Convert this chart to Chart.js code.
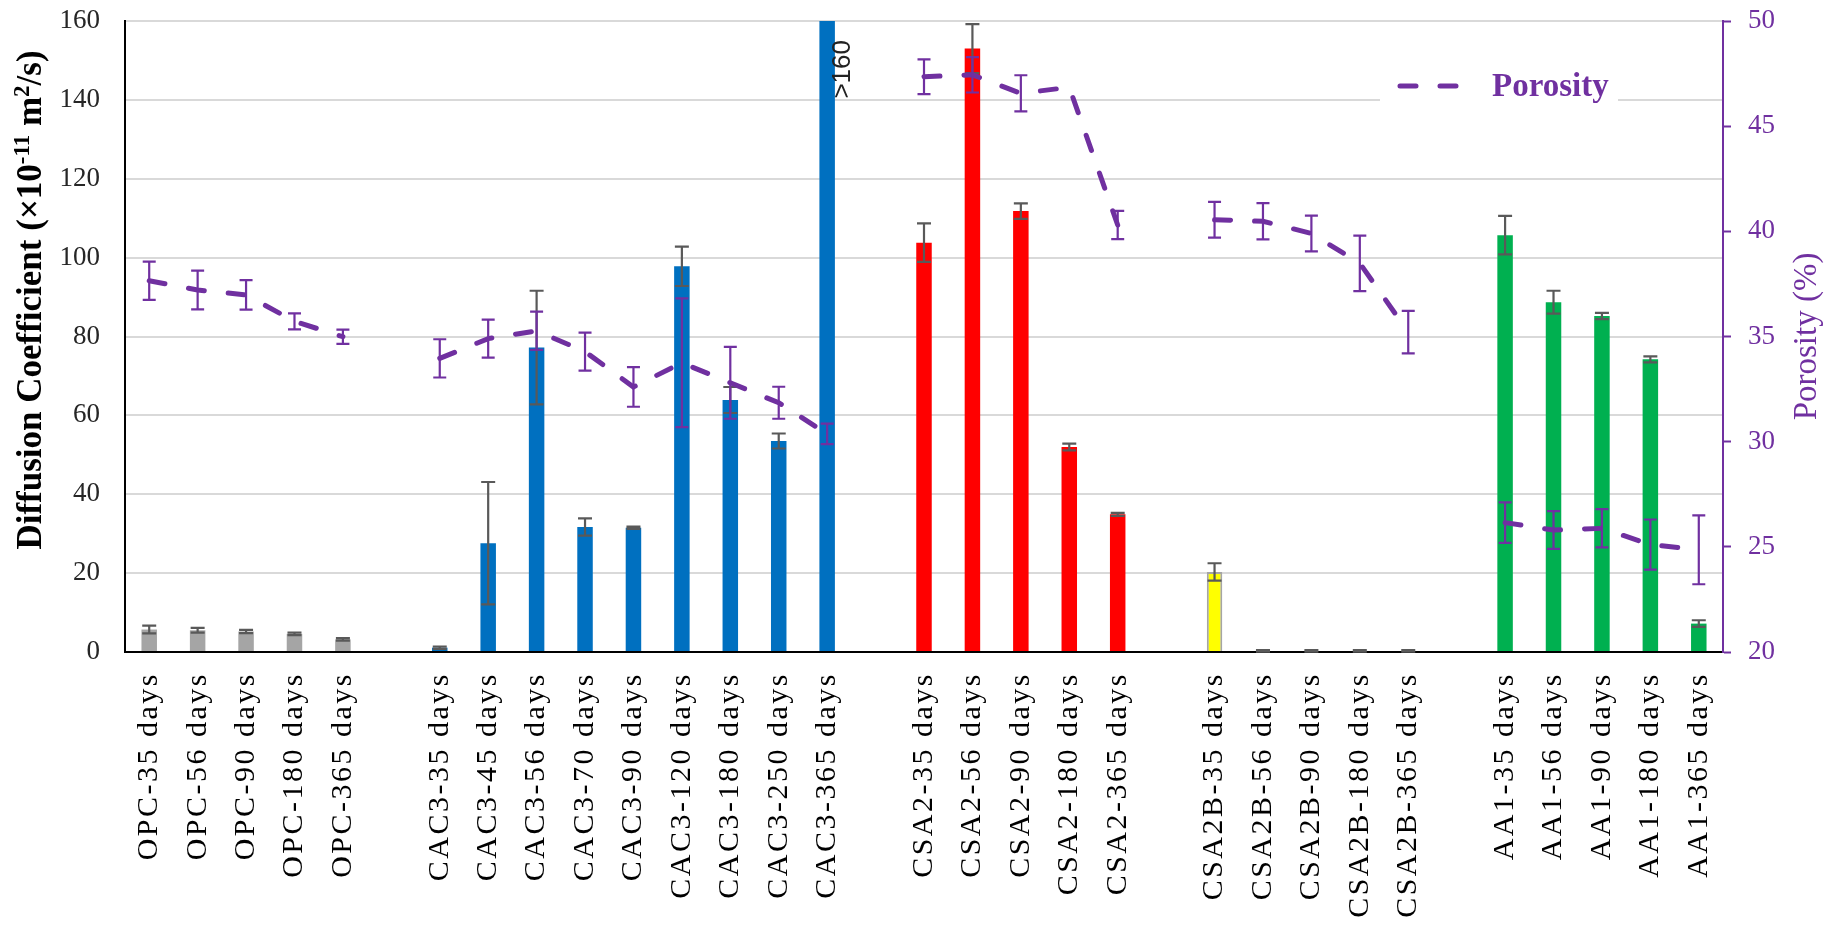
<!DOCTYPE html>
<html>
<head>
<meta charset="utf-8">
<script src="https://cdn.jsdelivr.net/npm/chart.js@4.4.1/dist/chart.umd.min.js"></script>
<style>
  html, body { margin: 0; padding: 0; background: #fff; }
  #wrap { width: 1837px; height: 930px; }
</style>
</head>
<body>
<div id="wrap"><canvas id="chart"></canvas></div>
<script>
// categories ('' = empty slot between mix groups)
const categoryLabels = [
  'OPC-35 days', 'OPC-56 days', 'OPC-90 days', 'OPC-180 days', 'OPC-365 days', '',
  'CAC3-35 days', 'CAC3-45 days', 'CAC3-56 days', 'CAC3-70 days', 'CAC3-90 days',
  'CAC3-120 days', 'CAC3-180 days', 'CAC3-250 days', 'CAC3-365 days', '',
  'CSA2-35 days', 'CSA2-56 days', 'CSA2-90 days', 'CSA2-180 days', 'CSA2-365 days', '',
  'CSA2B-35 days', 'CSA2B-56 days', 'CSA2B-90 days', 'CSA2B-180 days', 'CSA2B-365 days', '',
  'AA1-35 days', 'AA1-56 days', 'AA1-90 days', 'AA1-180 days', 'AA1-365 days'
];

// diffusion coefficient (x10^-11 m2/s) and its error
const diffusion = [
  5.7, 5.5, 5.2, 4.6, 3.2, null,
  1.1, 27.6, 77.2, 31.7, 31.5, 97.8, 63.9, 53.5, 160, null,
  103.8, 153, 111.8, 52.0, 34.9, null,
  20.3, 0.3, 0.3, 0.3, 0.3, null,
  105.7, 88.7, 85.2, 74.2, 7.2
];
const diffusionErr = [
  1.0, 0.6, 0.4, 0.3, 0.3, null,
  0.3, 15.5, 14.4, 2.2, 0.3, 5.0, 3.3, 1.9, 0, null,
  4.9, 6.2, 1.95, 0.85, 0.4, null,
  2.2, 0.2, 0.2, 0.2, 0.2, null,
  4.9, 2.9, 0.8, 0.76, 0.85
];

// porosity (%) and its error
const porosity = [
  37.65, 37.21, 36.98, 35.72, 34.99, null,
  33.96, 34.9, 35.27, 34.28, 32.6, 33.75, 32.8, 31.85, 30.37, null,
  47.35, 47.44, 46.56, 46.85, 40.3, null,
  40.55, 40.48, 39.9, 38.48, 35.21, null,
  26.15, 25.8, 25.88, 25.11, 24.86
];
const porosityErr = [
  0.91, 0.92, 0.70, 0.38, 0.34, null,
  0.91, 0.9, 0.91, 0.9, 0.94, 3.06, 1.71, 0.76, 0.49, null,
  0.83, 0.84, 0.86, 0, 0.67, null,
  0.85, 0.86, 0.85, 1.32, 1.01, null,
  0.96, 0.9, 0.91, 1.19, 1.64
];

const diffusionTicks = [0, 20, 40, 60, 80, 100, 120, 140, 160];
const porosityTicks = [20, 25, 30, 35, 40, 45, 50];
const barNotes = { 'CAC3-365 days': '>160' };

const SERIF = '"Liberation Serif", "Times New Roman", serif';
const PURPLE = '#7030A0';
const groupColors = { OPC: '#A5A5A5', CAC3: '#0070C0', CSA2: '#FF0000', CSA2B: '#FFFF00', AA1: '#00B050' };
const groupOf = l => l.split('-')[0];
const barColors = categoryLabels.map(l => groupColors[groupOf(l)] || 'rgba(0,0,0,0)');
const barBorders = categoryLabels.map(l => groupOf(l) === 'CSA2B' ? 2 : 0);

// vertical error bars, drawn right after their own dataset
const errorBars = {
  id: 'errorBars',
  afterDatasetDraw(chart, args) {
    const ds = chart.data.datasets[args.index];
    if (!ds.errorValues) return;
    const meta = args.meta;
    const yScale = chart.scales[meta.yAxisID];
    const ctx = chart.ctx;
    const half = ds.errorCap;
    ctx.save();
    ctx.strokeStyle = ds.errorColor;
    ctx.lineWidth = ds.errorWidth;
    ctx.beginPath();
    meta.data.forEach((el, i) => {
      const v = ds.data[i], e = ds.errorValues[i];
      if (v == null || !e) return;
      const top = yScale.getPixelForValue(v + e);
      const bot = yScale.getPixelForValue(v - e);
      ctx.moveTo(el.x, top); ctx.lineTo(el.x, bot);
      ctx.moveTo(el.x - half, top); ctx.lineTo(el.x + half, top);
      ctx.moveTo(el.x - half, bot); ctx.lineTo(el.x + half, bot);
    });
    ctx.stroke();
    ctx.restore();
  }
};

// ">160" note beside the clipped bar
const notes = {
  id: 'notes',
  afterDatasetsDraw(chart) {
    const idx = chart.data.datasets.findIndex(d => d.type === 'bar');
    const meta = chart.getDatasetMeta(idx);
    const ctx = chart.ctx;
    ctx.save();
    ctx.letterSpacing = '0px';
    ctx.font = '26px "Liberation Sans", Arial, sans-serif';
    ctx.fillStyle = '#222';
    ctx.textBaseline = 'middle';
    ctx.textAlign = 'right';
    categoryLabels.forEach((l, i) => {
      if (!barNotes[l]) return;
      const el = meta.data[i];
      ctx.save();
      ctx.translate(el.x + el.width / 2 + 8, chart.chartArea.top + 19);
      ctx.rotate(-Math.PI / 2);
      ctx.fillText(barNotes[l], 0, 0);
      ctx.restore();
    });
    ctx.restore();
  }
};

// slightly spaced category labels (drawn after the datasets, z: 1)
const labelSpacing = {
  id: 'labelSpacing',
  beforeDraw(chart) { chart.ctx.letterSpacing = '0px'; },
  afterDatasetsDraw(chart) { chart.ctx.letterSpacing = '2.5px'; },
  afterDraw(chart) { chart.ctx.letterSpacing = '0px'; }
};

// axis titles (left one has superscripts, right one reads bottom-to-top)
const axisTitles = {
  id: 'axisTitles',
  afterDraw(chart) {
    const ctx = chart.ctx;
    const parts = [['Diffusion Coefficient (\u00d710', false], ['-11', true], [' m', false], ['2', true], ['/s)', false]];
    const big = 'bold 35px ' + SERIF, small = 'bold 23px ' + SERIF;
    ctx.save();
    ctx.letterSpacing = '0px';
    let total = 0;
    parts.forEach(([t, sup]) => { ctx.font = sup ? small : big; total += ctx.measureText(t).width; });
    ctx.translate(29, 300);
    ctx.rotate(-Math.PI / 2);
    ctx.fillStyle = '#000';
    ctx.textBaseline = 'alphabetic';
    ctx.textAlign = 'left';
    let x = -total / 2;
    parts.forEach(([t, sup]) => {
      ctx.font = sup ? small : big;
      ctx.fillText(t, x, sup ? 0 : 12);
      x += ctx.measureText(t).width;
    });
    ctx.restore();

    const r = chart.scales.y1;
    ctx.save();
    ctx.letterSpacing = '0px';
    ctx.translate(r.right - 30, (chart.chartArea.top + chart.chartArea.bottom) / 2);
    ctx.rotate(-Math.PI / 2);
    ctx.font = '33px ' + SERIF;
    ctx.fillStyle = PURPLE;
    ctx.textAlign = 'center';
    ctx.textBaseline = 'middle';
    ctx.fillText('Porosity (%)', 0, 0);
    ctx.restore();
  }
};

// legend for the porosity line, inside the plot at top right
const insetLegend = {
  id: 'insetLegend',
  afterDraw(chart) {
    const ds = chart.data.datasets.find(d => d.type === 'line');
    const { ctx, chartArea } = chart;
    const right = chartArea.right - 105;
    const cy = chartArea.top + 65;
    ctx.save();
    ctx.letterSpacing = '0px';
    ctx.fillStyle = '#fff';
    ctx.fillRect(right - 238, cy - 22, 238, 44);
    ctx.strokeStyle = ds.borderColor;
    ctx.lineWidth = ds.borderWidth;
    ctx.lineCap = 'round';
    ctx.setLineDash(ds.borderDash);
    ctx.beginPath();
    ctx.moveTo(right - 218, cy);
    ctx.lineTo(right - 156, cy);
    ctx.stroke();
    ctx.setLineDash([]);
    ctx.font = 'bold 33px ' + SERIF;
    ctx.fillStyle = ds.borderColor;
    ctx.textBaseline = 'middle';
    ctx.fillText(ds.label, right - 126, cy + 1);
    ctx.restore();
  }
};

// keep tick-label padding from pushing the plot area inwards
const noEdgePadding = s => { s.paddingTop = 0; s.paddingBottom = 0; };

new Chart(document.getElementById('chart'), {
  type: 'bar',
  data: {
    labels: categoryLabels,
    datasets: [
      {
        type: 'line', label: 'Porosity', data: porosity, yAxisID: 'y1', order: 0,
        borderColor: PURPLE, borderWidth: 5, borderDash: [16, 24], borderCapStyle: 'round',
        pointRadius: 0, spanGaps: false, tension: 0,
        errorValues: porosityErr, errorColor: PURPLE, errorWidth: 2.2, errorCap: 6.5
      },
      {
        type: 'bar', label: 'Diffusion Coefficient', data: diffusion, yAxisID: 'y', order: 1,
        backgroundColor: barColors, borderColor: '#A5A5A5', borderWidth: barBorders,
        barPercentage: 0.32, categoryPercentage: 1,
        errorValues: diffusionErr, errorColor: '#595959', errorWidth: 2.2, errorCap: 7
      }
    ]
  },
  options: {
    responsive: true,
    maintainAspectRatio: false,
    animation: false,
    events: [],
    layout: { padding: { top: 21 } },
    plugins: { legend: { display: false }, tooltip: { enabled: false } },
    scales: {
      x: {
        offset: true,
        grid: { display: false, drawTicks: false },
        border: { display: true, color: '#000', width: 2 },
        ticks: { autoSkip: false, maxRotation: 90, minRotation: 90, padding: 20, color: '#000', z: 1,
                 font: { family: SERIF, size: 30 } },
        afterFit: s => { s.height = 278; s.paddingLeft = 0; s.paddingRight = 0; }
      },
      y: {
        position: 'left',
        min: diffusionTicks[0], max: diffusionTicks[diffusionTicks.length - 1],
        ticks: { stepSize: diffusionTicks[1] - diffusionTicks[0], padding: 25, color: '#262626',
                 font: { family: SERIF, size: 27 } },
        grid: { color: '#D9D9D9', lineWidth: 2, drawTicks: false },
        border: { color: '#000', width: 2 },
        afterFit: s => { s.width = 125; noEdgePadding(s); }
      },
      y1: {
        position: 'right',
        min: porosityTicks[0], max: porosityTicks[porosityTicks.length - 1],
        ticks: { stepSize: porosityTicks[1] - porosityTicks[0], padding: 17, color: PURPLE,
                 font: { family: SERIF, size: 27 } },
        grid: { drawOnChartArea: false, drawTicks: true, tickLength: 8, tickColor: PURPLE, tickWidth: 2 },
        border: { color: PURPLE, width: 2 },
        afterFit: s => { s.width = 114; noEdgePadding(s); }
      }
    }
  },
  plugins: [errorBars, notes, labelSpacing, axisTitles, insetLegend]
});
</script>
</body>
</html>
